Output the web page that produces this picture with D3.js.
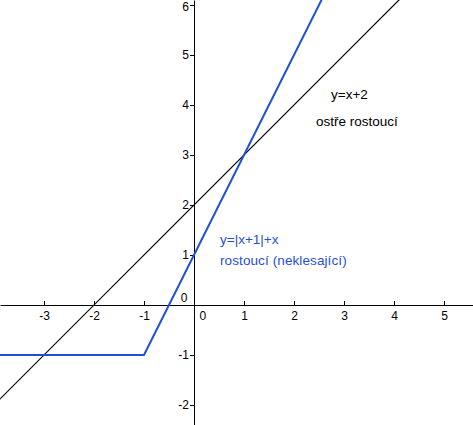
<!DOCTYPE html>
<html>
<head>
<meta charset="utf-8">
<script src="https://cdn.jsdelivr.net/npm/d3@7"></script>
<style>
  body { margin: 0; background: #fff; }
  svg { display: block; font-family: "Liberation Sans", Arial, sans-serif; }
</style>
</head>
<body>
<div id="chart"></div>
<script>
/* CONSTANTS AND GLOBALS */
var width = 473,
    height = 425;

// where the origin sits and how many pixels one unit takes
var origin = {x: 194, y: 305},
    unit = 50;

/* DATA */
var xTicks = [-3, -2, -1, 1, 2, 3, 4, 5];
var yTicks = [-2, -1, 1, 2, 3, 4, 5, 6];

// y = x + 2  (vertices)
var linX = [-4, 5];
var linY = [-2, 7];

// y = |x+1| + x  (vertices)
var absX = [-4, -1, 3];
var absY = [-1, -1, 7];

var linLabels = ["y=x+2", "ostře rostoucí"];
var absLabels = ["y=|x+1|+x", "rostoucí (neklesající)"];

var black = "#000000",
    blue = "#1f4fd8";

/* SCALES */
var xScale = d3.scaleLinear()
  .domain([-origin.x / unit, (width - origin.x) / unit])
  .range([0, width]);

var yScale = d3.scaleLinear()
  .domain([origin.y / unit, (origin.y - height) / unit])
  .range([0, height]);

/* DRAW */
var svg = d3.select("#chart").append("svg")
  .attr("width", width)
  .attr("height", height);

svg.append("defs").append("clipPath")
  .attr("id", "plot")
  .append("rect")
  .attr("width", width)
  .attr("height", height);

// x axis
var xAxis = svg.append("g")
  .attr("transform", "translate(0," + yScale(0) + ")")
  .call(d3.axisBottom(xScale)
    .tickValues(xTicks)
    .tickSizeInner(-4)
    .tickSizeOuter(0)
    .tickPadding(6)
    .tickFormat(function(d) { return String(d); }));

// y axis
var yAxis = svg.append("g")
  .attr("transform", "translate(" + xScale(0) + ",0)")
  .call(d3.axisLeft(yScale)
    .tickValues(yTicks)
    .tickSizeInner(4)
    .tickSizeOuter(0)
    .tickPadding(1)
    .tickFormat(function(d) { return String(d); }));

svg.selectAll(".domain").attr("stroke", black);
svg.selectAll(".tick line").attr("stroke", black);
svg.selectAll(".tick text")
  .attr("fill", black)
  .style("font-family", "'Liberation Sans', Arial, sans-serif")
  .style("font-size", "12px");

// top label sits right at the edge, push it down a bit so it stays whole
yAxis.selectAll(".tick text")
  .filter(function(d) { return d === 6; })
  .attr("dy", "0.45em");

// the two zeros at the origin
svg.append("text")
  .attr("x", xScale(0) + 5.5)
  .attr("y", yScale(0) + 14.5)
  .attr("font-size", 12)
  .text("0");

svg.append("text")
  .attr("x", xScale(0) - 6.5)
  .attr("y", yScale(0) - 3.5)
  .attr("text-anchor", "end")
  .attr("font-size", 12)
  .text("0");

// lines
var line = d3.line()
  .x(function(d) { return xScale(d[0]); })
  .y(function(d) { return yScale(d[1]); });

var plot = svg.append("g").attr("clip-path", "url(#plot)");

plot.append("path")
  .datum(d3.zip(linX, linY))
  .attr("d", line)
  .attr("fill", "none")
  .attr("stroke", black)
  .attr("stroke-width", 1.2);

plot.append("path")
  .datum(d3.zip(absX, absY))
  .attr("d", line)
  .attr("fill", "none")
  .attr("stroke", blue)
  .attr("stroke-width", 2);

// text labels
svg.append("text")
  .attr("x", xScale(2.74))
  .attr("y", yScale(4.13))
  .attr("font-size", 13.5)
  .attr("fill", black)
  .text(linLabels[0]);

svg.append("text")
  .attr("x", xScale(2.44))
  .attr("y", yScale(3.58))
  .attr("font-size", 13.5)
  .attr("fill", black)
  .text(linLabels[1]);

svg.append("text")
  .attr("x", xScale(0.52))
  .attr("y", yScale(1.22))
  .attr("font-size", 13.5)
  .attr("fill", blue)
  .text(absLabels[0]);

svg.append("text")
  .attr("x", xScale(0.52))
  .attr("y", yScale(0.81))
  .attr("font-size", 13.5)
  .attr("fill", blue)
  .style("letter-spacing", "0.1px")
  .text(absLabels[1]);
</script>
</body>
</html>
